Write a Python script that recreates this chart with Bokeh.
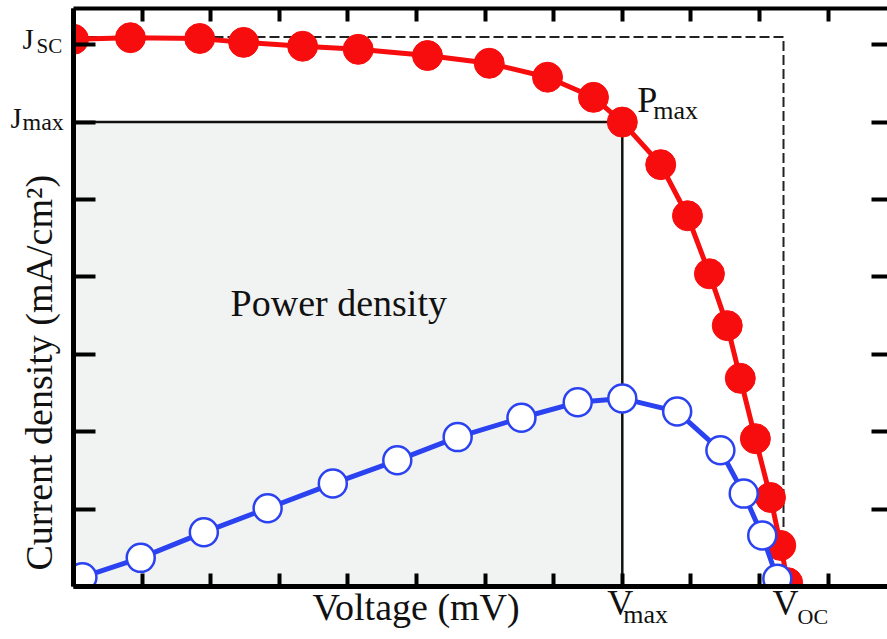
import math
from bokeh.plotting import figure
from bokeh.models import Label, LinearAxis, FixedTicker, Range1d
from bokeh.embed import file_html
from bokeh.resources import INLINE

# ---- data (axis units: one tick = one unit) ----
red_v = [0.0, 0.83, 1.84, 2.48, 3.34, 4.15, 5.16, 6.06, 6.91, 7.58, 8.0,
         8.56, 8.95, 9.27, 9.53, 9.72, 9.94, 10.16, 10.31, 10.41]
red_j = [7.07, 7.09, 7.08, 7.03, 6.98, 6.94, 6.86, 6.76, 6.58, 6.32, 6.0,
         5.45, 4.79, 4.04, 3.37, 2.69, 1.91, 1.15, 0.53, 0.05]

blue_v = [0.13, 0.98, 1.90, 2.83, 3.78, 4.72, 5.60, 6.53, 7.35, 8.0,
          8.80, 9.43, 9.77, 10.04, 10.26]
blue_p = [0.12, 0.37, 0.70, 1.01, 1.33, 1.63, 1.93, 2.18, 2.38, 2.43,
          2.26, 1.76, 1.20, 0.66, 0.10]

V_MAX = 8.0
J_MAX = 6.0
V_OC = 10.35
J_SC = 7.10

x_ticks = list(range(0, 12))
y_ticks = list(range(0, 8))

# ---- layout ----
W, H = 887, 639
PX_X, PX_Y = 68.6, 77.4          # pixels per unit
ORIGIN_X, ORIGIN_Y = 73, 586      # pixel position of (0, 0)
X0 = -ORIGIN_X / PX_X
X1 = X0 + W / PX_X
Y0 = -(H - ORIGIN_Y) / PX_Y
Y1 = ORIGIN_Y / PX_Y
Y_TOP = (ORIGIN_Y - 8) / PX_Y     # top spine

FONT = "Liberation Serif"
RED = "#f70d0d"
BLUE = "#2b42f0"

p = figure(width=W, height=H, output_backend="svg", toolbar_location=None,
           x_range=Range1d(X0, X1), y_range=Range1d(Y0, Y1),
           x_axis_location=None, y_axis_location=None, min_border=0)
p.outline_line_color = None
p.xgrid.visible = False
p.ygrid.visible = False
p.background_fill_color = "white"
p.border_fill_color = "white"

def make_axis(ticks, tick_len, loc, bounds, line_w=5, line_alpha=1.0):
    ax = LinearAxis(fixed_location=loc, bounds=bounds)
    ax.ticker = FixedTicker(ticks=[], minor_ticks=ticks)
    ax.major_tick_in = 0
    ax.major_tick_out = 0
    ax.minor_tick_in = tick_len
    ax.minor_tick_out = 0
    ax.minor_tick_line_width = 4
    ax.minor_tick_line_color = "black"
    ax.axis_line_width = line_w
    ax.axis_line_color = "black"
    ax.axis_line_alpha = line_alpha
    ax.major_label_standoff = 0
    ax.axis_label = None
    return ax

p.add_layout(make_axis(x_ticks, 13, 0, (0, X1)), "below")
p.add_layout(make_axis(y_ticks, 22, 0, (0, Y_TOP)), "left")
p.add_layout(make_axis(x_ticks, 13, Y_TOP, (0, X1), line_w=4), "above")
p.add_layout(make_axis(y_ticks, 16, X1, (0, Y_TOP), line_alpha=0.0), "right")

# shaded power-density rectangle
p.quad(left=0, right=V_MAX, bottom=0, top=J_MAX, fill_color="#f1f3f3", line_color=None)
p.line([0, V_MAX], [J_MAX, J_MAX], line_color="#111111", line_width=2.5)
p.line([V_MAX, V_MAX], [0, J_MAX], line_color="#111111", line_width=2.5)
# dashed Jsc x Voc rectangle
p.line([0, V_OC, V_OC], [J_SC, J_SC, 0], line_color="#222222", line_width=2,
       line_dash="10 4")

# J-V curve
p.line(red_v, red_j, line_color=RED, line_width=5)
p.scatter(red_v, red_j, size=30, fill_color=RED, line_color=RED, line_width=1)
# power curve
p.line(blue_v, blue_p, line_color=BLUE, line_width=5)
p.scatter(blue_v, blue_p, size=28, fill_color="white", line_color=BLUE, line_width=2.5)

# white masks outside the axes (data clipped at the spines)
p.quad(left=[X0, X0], right=[0, X1], bottom=[Y0, Y0], top=[Y1, 0],
       fill_color="white", line_color=None)

SHIFT = 0.42  # baseline compensation (em)

def lab(text, x, y, dx, dy, size, angle=0.0):
    if angle:
        xo, yo = dx - SHIFT * size, dy
    else:
        xo, yo = dx, dy + SHIFT * size
    p.add_layout(Label(x=x, y=y, x_offset=xo, y_offset=yo, text=text,
                       text_font=FONT, text_font_size=f"{size}px",
                       text_color="#111111", text_align="left",
                       text_baseline="alphabetic", angle=angle))

# left tick labels
lab("J", 0, 7, -51, -6, 29)
lab("SC", 0, 7, -37, -10, 21)
lab("J", 0, 6, -63, -8, 29)
lab("max", 0, 6, -51, -10, 24)
# P max
lab("P", V_MAX, J_MAX, 15, 7, 36)
lab("max", V_MAX, J_MAX, 31, 1, 26)
# bottom labels
lab("V", V_MAX, 0, -15, -32, 36)
lab("max", V_MAX, 0, 1, -39, 26)
lab("V", V_OC, 0, -11, -32, 36)
lab("OC", V_OC, 0, 14, -39, 22)
lab("Voltage (mV)", 0, 0, 239, -36, 38)
# y axis title
lab("Current density (mA/cm\u00b2)", 0, 0, -19, 16, 38, angle=math.pi / 2)
# inside label
lab("Power density", 2.29, 3.46, 0, 0, 38)

open("out.html", "w").write(file_html(p, INLINE))
